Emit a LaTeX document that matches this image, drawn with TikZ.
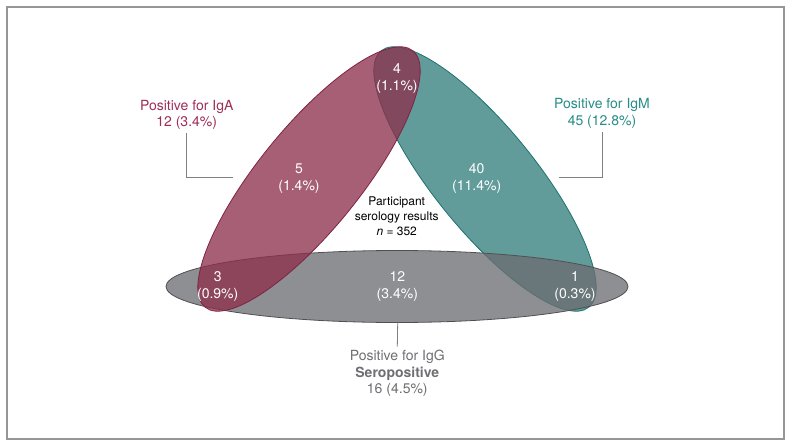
\documentclass[tikz,border=0pt]{standalone}
\usepackage{fontspec}
\setmainfont{TeX Gyre Heros}
\definecolor{igared}{RGB}{141,47,76}
\definecolor{igaline}{RGB}{128,34,68}
\definecolor{igatext}{RGB}{158,45,88}
\definecolor{igmteal}{RGB}{49,125,123}
\definecolor{igmline}{RGB}{30,115,112}
\definecolor{igmtext}{RGB}{38,140,135}
\definecolor{iggray}{RGB}{107,109,113}
\definecolor{iggline}{RGB}{80,80,84}
\definecolor{iggtext}{RGB}{110,110,115}
\definecolor{framegray}{RGB}{150,150,150}

\begin{document}
\begin{tikzpicture}[x=1pt, y=-1pt,
    venn/.style={fill opacity=0.77, line width=0.8pt},
    count/.style={text=white, align=center, font=\fontsize{14}{16.7}\selectfont},
    setlabel/.style={align=center, font=\fontsize{14}{16.7}\selectfont},
    leader/.style={draw=gray, line width=0.8pt},
]
    \useasboundingbox (0,0) rectangle (791,446);
    \draw [framegray, line width=1.5pt] (7,7) rectangle (784,439);

    % sets
    \draw [venn, fill=igmteal, draw=igmline, rotate around={-51:(485,179)}] (485,179) ellipse [x radius=165pt, y radius=51pt];
    \draw [venn, fill=iggray, draw=iggline] (397,286.5) ellipse [x radius=231pt, y radius=36pt];
    \draw [venn, fill=igared, draw=igaline, rotate around={51:(309,179)}] (309,179) ellipse [x radius=165pt, y radius=51pt];

    % counts
    \node (igam) [count] at (397,78.3) {4\\(1.1\%)};
    \node (igaonly) [count] at (299,178.3) {5\\(1.4\%)};
    \node (igmonly) [count] at (476.7,178.3) {40\\(11.4\%)};
    \node (igag) [count] at (217.7,286.7) {3\\(0.9\%)};
    \node (iggonly) [count] at (397.3,286.7) {12\\(3.4\%)};
    \node (igmg) [count] at (575,286.7) {1\\(0.3\%)};
    \node (total) [align=center, font=\fontsize{12}{15}\selectfont] at (396.7,216.7) {Participant\\serology results\\\textit{n} = 352};

    % set labels
    \node (igalabel) [setlabel, text=igatext] at (186.7,115) {Positive for IgA\\12 (3.4\%)};
    \node (igmlabel) [setlabel, text=igmtext] at (602,113.4) {Positive for IgM\\45 (12.8\%)};
    \node (igglabel) [setlabel, text=iggtext] at (397.3,373.5) {Positive for IgG\\\textbf{Seropositive}\\16 (4.5\%)};

    % leaders
    \coordinate (igaend) at (232.5,177.7);
    \coordinate (igmend) at (559,177.7);
    \coordinate (iggend) at (397.7,322.5);
    \draw [leader] (igalabel.south) |- (igaend);
    \draw [leader] (igmlabel.south) |- (igmend);
    \draw [leader] (iggend) -- (igglabel.north);
\end{tikzpicture}
\end{document}
